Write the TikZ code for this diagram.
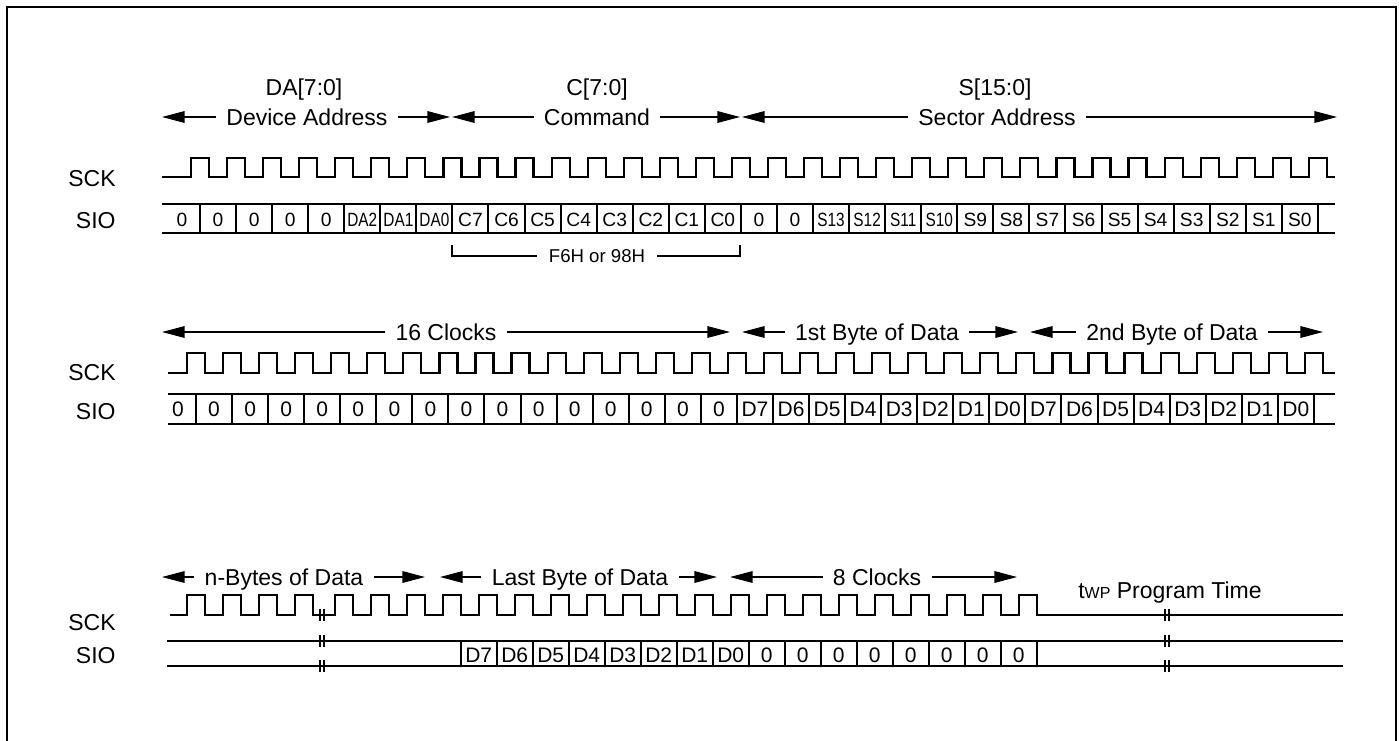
\documentclass[tikz,border=0pt]{standalone}
\usepackage{fontspec}
\setmainfont{Liberation Sans}
\usepackage{graphicx}
\usetikzlibrary{arrows.meta}

\newcommand{\sq}[1]{\scalebox{0.8}[1]{#1}}

\tikzset{
  sig/.style={line width=1.1pt, line join=miter},
  cell/.style={line width=1pt},
  dim/.style={line width=0.65pt, -{Triangle[length=11.3pt,width=5.8pt]}},
  lbl/.style={font=\fontsize{11.5}{13}\selectfont, text height=8.3pt, text depth=0pt, inner xsep=5pt, inner ysep=0pt},
  signame/.style={font=\fontsize{11.5}{13}\selectfont, text height=8.3pt, text depth=0pt, inner sep=0pt, anchor=east},
  bitA/.style={font=\fontsize{9.6}{11}\selectfont, text height=6.9pt, text depth=0pt, inner sep=0pt},
  bitB/.style={font=\fontsize{10.5}{12}\selectfont, text height=7.5pt, text depth=0pt, inner sep=0pt},
  brk/.style={line width=0.9pt},
}

\begin{document}
\begin{tikzpicture}[x=0.5pt,y=-0.5pt,line cap=butt]
\useasboundingbox (0,0) rectangle (1399,740);

% frame
\draw[line width=1.3pt] (7,760) -- (7,7) -- (1396,7) -- (1396,760);

% ---------- first part: address and command ----------
\node[lbl] (da)  at (304,87) {DA[7:0]};
\node[lbl] (dev) at (307,117) {Device Address};
\coordinate (devL) at (162,117);
\coordinate (devR) at (450,117);
\draw[dim] (dev) -- (devL);
\draw[dim] (dev) -- (devR);

\node[lbl] (cc)  at (597,87) {C[7:0]};
\node[lbl] (cmd) at (597,117) {Command};
\coordinate (cmdL) at (452,117);
\coordinate (cmdR) at (740,117);
\draw[dim] (cmd) -- (cmdL);
\draw[dim] (cmd) -- (cmdR);

\node[lbl] (ss)  at (995,87) {S[15:0]};
\node[lbl] (sec) at (997,117) {Sector Address};
\coordinate (secL) at (742,117);
\coordinate (secR) at (1337,117);
\draw[dim] (sec) -- (secL);
\draw[dim] (sec) -- (secR);

\node[signame] (sck1) at (116,178) {SCK};
\node[signame] (sio1) at (116,220) {SIO};

\draw[sig] (162,177) \foreach \k in {0,...,31} {
  -- ({191+36.06*\k},177) -- ++(0,-19) -- ++(18,0) -- ++(0,19) } -- (1335,177);

\draw[cell] (162,204) -- (1335,204);
\draw[cell] (162,233) -- (1335,233);
\foreach \k in {0,...,31}
  \draw[cell] ({200+36.06*\k},204) -- ++(0,29);
\foreach \t [count=\i from 0] in {0,0,0,0,0,\sq{DA2},\sq{DA1},\sq{DA0},
    C7,C6,C5,C4,C3,C2,C1,C0,0,0,\sq{S13},\sq{S12},\sq{S11},\sq{S10},
    S9,S8,S7,S6,S5,S4,S3,S2,S1,S0}
  \node[bitA] (a\i) at ({182+36.06*\i},219.5) {\t};

\node[font=\fontsize{9.3}{11}\selectfont, text height=6.7pt, text depth=0pt,
  inner xsep=6pt, inner ysep=0pt] (f6h) at (597,256) {F6H or 98H};
\coordinate (brL) at (452,245);
\coordinate (brR) at (740,245);
\draw[line width=0.8pt] (f6h) -| (brL);
\draw[line width=0.8pt] (f6h) -| (brR);

% ---------- second part: dummy clocks and data ----------
\node[lbl] (clk16) at (446,332) {16 Clocks};
\coordinate (c16L) at (162,332);
\coordinate (c16R) at (730,332);
\draw[dim] (clk16) -- (c16L);
\draw[dim] (clk16) -- (c16R);

\node[lbl] (byte1) at (877,332) {1st Byte of Data};
\coordinate (b1L) at (742,332);
\coordinate (b1R) at (1018,332);
\draw[dim] (byte1) -- (b1L);
\draw[dim] (byte1) -- (b1R);

\node[lbl] (byte2) at (1172,332) {2nd Byte of Data};
\coordinate (b2L) at (1030,332);
\coordinate (b2R) at (1323,332);
\draw[dim] (byte2) -- (b2L);
\draw[dim] (byte2) -- (b2R);

\node[signame] (sck2) at (116,372) {SCK};
\node[signame] (sio2) at (116,411) {SIO};

\draw[sig] (168,372.7) \foreach \k in {0,...,31} {
  -- ({187+36.06*\k},372.7) -- ++(0,-20) -- ++(18,0) -- ++(0,20) } -- (1335,372.7);

\draw[cell] (168,394) -- (1335,394);
\draw[cell] (168,424) -- (1335,424);
\foreach \k in {0,...,31}
  \draw[cell] ({196+36.06*\k},394) -- ++(0,30);
\foreach \t [count=\i from 0] in {0,0,0,0,0,0,0,0,0,0,0,0,0,0,0,0,
    D7,D6,D5,D4,D3,D2,D1,D0,D7,D6,D5,D4,D3,D2,D1,D0}
  \node[bitB] (b\i) at ({178+36.06*\i},408.5) {\t};

% ---------- third part: last byte and program time ----------
\node[lbl] (nbyte) at (284,577) {n-Bytes of Data};
\coordinate (nbL) at (162,577);
\coordinate (nbR) at (425,577);
\draw[dim] (nbyte) -- (nbL);
\draw[dim] (nbyte) -- (nbR);

\node[lbl] (last) at (580,577) {Last Byte of Data};
\coordinate (lbL) at (440,577);
\coordinate (lbR) at (717,577);
\draw[dim] (last) -- (lbL);
\draw[dim] (last) -- (lbR);

\node[lbl] (clk8) at (877,577) {8 Clocks};
\coordinate (c8L) at (730,577);
\coordinate (c8R) at (1017,577);
\draw[dim] (clk8) -- (c8L);
\draw[dim] (clk8) -- (c8R);

\node[lbl] (twp) at (1170,590) {t{\fontsize{8}{9}\selectfont WP} Program Time};

\node[signame] (sck3) at (116,622) {SCK};
\node[signame] (sio3) at (116,655) {SIO};

\draw[sig] (170,615) \foreach \x in {187,223,259,295} {
  -- (\x,615) -- ++(0,-20) -- ++(18,0) -- ++(0,20) }
  \foreach \j in {0,...,19} {
  -- ({334.7+36*\j},615) -- ++(0,-20) -- ++(18,0) -- ++(0,20) } -- (1343,615);

\draw[cell] (167,641) -- (1343,641);
\draw[cell] (167,666) -- (1343,666);
\foreach \k in {0,...,16}
  \draw[cell] ({460.7+36*\k},641) -- ++(0,25);
\foreach \t [count=\i from 0] in {D7,D6,D5,D4,D3,D2,D1,D0,0,0,0,0,0,0,0,0}
  \node[bitB] (c\i) at ({478.7+36*\i},654.5) {\t};

% break marks
\foreach \x in {322,1167}
  \foreach \y in {615,641,666} {
    \draw[brk] ({\x-1.8},{\y-6}) -- ++(0,12);
    \draw[brk] ({\x+1.8},{\y-6}) -- ++(0,12);
  }

\end{tikzpicture}
\end{document}
